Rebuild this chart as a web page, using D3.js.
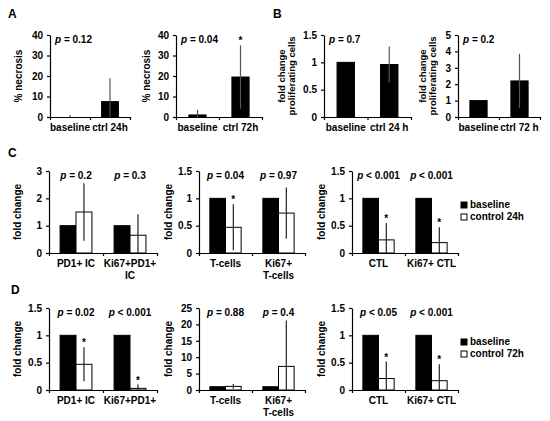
<!DOCTYPE html>
<html>
<head>
<meta charset="utf-8">
<script src="https://cdn.jsdelivr.net/npm/d3@7"></script>
<style>
  body { margin: 0; background: #fff; }
  svg { display: block; font-family: "Liberation Sans", Arial, sans-serif; font-weight: bold; }
</style>
</head>
<body>
<svg id="fig" width="550" height="421"></svg>
<script>
// ---- data ----
// A: % necrosis
const necrosisCats24 = ["baseline", "ctrl 24h"];
const necrosis24 = [0, 7.5];
const necrosis24Err = [1, 11.4];
const necrosisCats72 = ["baseline", "ctrl 72h"];
const necrosis72 = [1, 19.5];
const necrosis72Err = [2.5, 15.5];
const necrosisTicks = [0, 10, 20, 30, 40];
const necrosisP = ["0.12", "0.04"];

// B: fold change proliferating cells
const prolifCats24 = ["baseline", "ctrl 24 h"];
const prolif24 = [1, 0.96];
const prolif24Err = [0, 0.33];
const prolifTicks24 = [0, 0.5, 1, 1.5];
const prolifCats72 = ["baseline", "ctrl 72 h"];
const prolif72 = [1, 2.2];
const prolif72Err = [0, 1.65];
const prolifTicks72 = [0, 1, 2, 3, 4, 5];
const prolifP = ["0.7", "0.2"];

// C: 24h, baseline vs control
const icCats24 = ["PD1+ IC", "Ki67+PD1+\nIC"];
const icBase24 = [1, 1];
const icCtrl24 = [1.5, 0.65];
const icCtrl24Err = [1.05, 0.77];
const icP24 = ["= 0.2", "= 0.3"];
const icTicks24 = [0, 1, 2, 3];

const tcCats = ["T-cells", "Ki67+\nT-cells"];
const tcBase24 = [1, 1];
const tcCtrl24 = [0.47, 0.73];
const tcCtrl24Err = [0.42, 0.47];
const tcP24 = ["= 0.04", "= 0.97"];
const tcStar24 = [true, false];

const ctlCats = ["CTL", "Ki67+ CTL"];
const ctlBase24 = [1, 1];
const ctlCtrl24 = [0.24, 0.19];
const ctlCtrl24Err = [0.31, 0.28];
const ctlP24 = ["< 0.001", "< 0.001"];

const halfTicks = [0, 0.5, 1, 1.5];

// D: 72h, baseline vs control
const icCats72 = ["PD1+ IC", "Ki67+PD1+"];
const icBase72 = [1, 1];
const icCtrl72 = [0.47, 0.03];
const icCtrl72Err = [0.31, 0.07];
const icP72 = ["= 0.02", "< 0.001"];

const tcBase72 = [1, 1];
const tcCtrl72 = [1.1, 7.2];
const tcCtrl72Err = [0.7, 14];
const tcP72 = ["= 0.88", "= 0.4"];
const tcTicks72 = [0, 5, 10, 15, 20, 25];

const ctlBase72 = [1, 1];
const ctlCtrl72 = [0.21, 0.17];
const ctlCtrl72Err = [0.31, 0.3];
const ctlP72 = ["< 0.05", "< 0.001"];

const legendLabels24 = ["baseline", "control 24h"];
const legendLabels72 = ["baseline", "control 72h"];

// ---- drawing ----
const svg = d3.select("#fig");

function drawPanel(cfg) {
  const g = svg.append("g");
  const x = d3.scaleBand().domain(cfg.cats).range([cfg.x0, cfg.x1])
    .paddingInner(cfg.pad).paddingOuter(cfg.pad / 2);
  const y = d3.scaleLinear().domain([0, d3.max(cfg.ticks)]).range([cfg.y1, cfg.y0]);
  const sub = d3.scaleBand().domain(d3.range(cfg.series.length)).range([0, x.bandwidth()]);

  cfg.series.forEach((s, si) => {
    const sg = g.append("g");
    const cx = i => x(cfg.cats[i]) + sub(si) + sub.bandwidth() / 2;
    sg.selectAll("rect")
      .data(s.values)
      .join("rect")
      .attr("x", (d, i) => x(cfg.cats[i]) + sub(si))
      .attr("y", d => y(d))
      .attr("width", sub.bandwidth())
      .attr("height", d => y(0) - y(d))
      .attr("fill", s.fill)
      .attr("stroke", "#000")
      .attr("stroke-width", 1);
    if (s.err) {
      sg.selectAll("line")
        .data(s.values)
        .join("line")
        .attr("x1", (d, i) => cx(i))
        .attr("x2", (d, i) => cx(i))
        .attr("y1", (d, i) => y(Math.max(0, d - s.err[i])))
        .attr("y2", (d, i) => y(d + s.err[i]))
        .attr("stroke", s.fill === "#000" ? "#555" : "#222")
        .attr("stroke-width", 1.2);
    }
    if (s.stars) {
      const starred = s.values.map((v, i) => ({ v, i })).filter(d => s.stars[d.i]);
      sg.selectAll("text.star")
        .data(starred)
        .join("text")
        .attr("class", "star")
        .attr("x", d => cx(d.i))
        .attr("y", d => y(d.v + (s.err ? s.err[d.i] : 0)) - 1)
        .attr("text-anchor", "middle")
        .attr("font-size", 10)
        .text("*");
    }
  });

  // axes
  const yAxis = g.append("g")
    .attr("transform", `translate(${cfg.x0},0)`)
    .call(d3.axisLeft(y).tickValues(cfg.ticks).tickSize(3).tickSizeOuter(0)
      .tickPadding(4).tickFormat(d3.format("~g")));
  yAxis.attr("font-family", null).attr("font-size", 10);

  const xb = d3.scaleLinear().domain([0, cfg.cats.length]).range([cfg.x0, cfg.x1]);
  g.append("g")
    .attr("transform", `translate(0,${cfg.y1})`)
    .call(d3.axisBottom(xb).tickValues(d3.range(cfg.cats.length + 1))
      .tickSize(3).tickSizeOuter(0).tickFormat(""));
  g.selectAll(".domain, .tick line").attr("stroke", "#000").attr("stroke-width", 1.2);

  // category labels
  cfg.cats.forEach(c => {
    const t = g.append("text")
      .attr("x", x(c) + x.bandwidth() / 2)
      .attr("y", cfg.y1 + 14)
      .attr("text-anchor", "middle")
      .attr("font-size", 10);
    c.split("\n").forEach((line, li) => {
      t.append("tspan")
        .attr("x", x(c) + x.bandwidth() / 2)
        .attr("dy", li ? 12 : 0)
        .text(line);
    });
  });

  // p values
  cfg.pvals.forEach((pv, i) => {
    const single = cfg.pvals.length === 1;
    const t = g.append("text")
      .attr("x", single ? cfg.x0 + 5 : x(cfg.cats[i]) + x.bandwidth() / 2)
      .attr("y", cfg.y0 + 7.5)
      .attr("text-anchor", single ? "start" : "middle")
      .attr("font-size", 10);
    t.append("tspan").attr("font-style", "italic").text("p");
    t.append("tspan").text(" " + pv);
  });

  // y label
  cfg.ylabel.forEach((line, li) => {
    g.append("text")
      .attr("transform", `translate(${cfg.ylabelX[li]},${(cfg.y0 + cfg.y1) / 2}) rotate(-90)`)
      .attr("text-anchor", "middle")
      .attr("dy", "0.35em")
      .attr("font-size", cfg.ylabelSize || 10)
      .text(line);
  });
}

function drawLegend(labels, lx, ly) {
  const fills = ["#000", "#fff"];
  labels.forEach((lab, i) => {
    svg.append("rect")
      .attr("x", lx).attr("y", ly + i * 12 - 6)
      .attr("width", 6).attr("height", 6)
      .attr("fill", fills[i]).attr("stroke", "#000");
    svg.append("text")
      .attr("x", lx + 9).attr("y", ly + i * 12)
      .attr("font-size", 10)
      .text(lab);
  });
}

// panel letters
[["A", 8, 18], ["B", 273, 18], ["C", 8, 157], ["D", 11, 294]].forEach(([l, lx, ly]) => {
  svg.append("text").attr("x", lx).attr("y", ly).attr("font-size", 12).text(l);
});

const rowA = { y0: 35, y1: 117 };
const rowC = { y0: 171, y1: 253 };
const rowD = { y0: 308, y1: 390 };

// A
drawPanel({ ...rowA, x0: 50, x1: 130, pad: 0.58, cats: necrosisCats24, ticks: necrosisTicks,
  series: [{ values: necrosis24, err: necrosis24Err, fill: "#000" }],
  pvals: ["= " + necrosisP[0]], ylabel: ["% necrosis"], ylabelX: [18] });
drawPanel({ ...rowA, x0: 176, x1: 262, pad: 0.6, cats: necrosisCats72, ticks: necrosisTicks,
  series: [{ values: necrosis72, err: necrosis72Err, fill: "#000", stars: [false, true] }],
  pvals: ["= " + necrosisP[1]], ylabel: ["% necrosis"], ylabelX: [146] });

// B
drawPanel({ ...rowA, x0: 324, x1: 411, pad: 0.6, cats: prolifCats24, ticks: prolifTicks24,
  series: [{ values: prolif24, err: prolif24Err, fill: "#000" }],
  pvals: ["= " + prolifP[0]], ylabel: ["fold change", "proliferating cells"], ylabelX: [282, 292], ylabelSize: 9.5 });
drawPanel({ ...rowA, x0: 458, x1: 540, pad: 0.58, cats: prolifCats72, ticks: prolifTicks72,
  series: [{ values: prolif72, err: prolif72Err, fill: "#000" }],
  pvals: ["= " + prolifP[1]], ylabel: ["fold change", "proliferating cells"], ylabelX: [423, 433], ylabelSize: 9.5 });

// C
drawPanel({ ...rowC, x0: 49, x1: 157, pad: 0.41, cats: icCats24, ticks: icTicks24,
  series: [{ values: icBase24, fill: "#000" }, { values: icCtrl24, err: icCtrl24Err, fill: "#fff" }],
  pvals: icP24, ylabel: ["fold change"], ylabelX: [17] });
drawPanel({ ...rowC, x0: 199, x1: 305, pad: 0.41, cats: tcCats, ticks: halfTicks,
  series: [{ values: tcBase24, fill: "#000" }, { values: tcCtrl24, err: tcCtrl24Err, fill: "#fff", stars: tcStar24 }],
  pvals: tcP24, ylabel: ["fold change"], ylabelX: [168] });
drawPanel({ ...rowC, x0: 352, x1: 458, pad: 0.41, cats: ctlCats, ticks: halfTicks,
  series: [{ values: ctlBase24, fill: "#000" }, { values: ctlCtrl24, err: ctlCtrl24Err, fill: "#fff", stars: [true, true] }],
  pvals: ctlP24, ylabel: ["fold change"], ylabelX: [321] });
drawLegend(legendLabels24, 461, 208);

// D
drawPanel({ ...rowD, x0: 49, x1: 157, pad: 0.41, cats: icCats72, ticks: halfTicks,
  series: [{ values: icBase72, fill: "#000" }, { values: icCtrl72, err: icCtrl72Err, fill: "#fff", stars: [true, true] }],
  pvals: icP72, ylabel: ["fold change"], ylabelX: [17] });
drawPanel({ ...rowD, x0: 199, x1: 305, pad: 0.41, cats: tcCats, ticks: tcTicks72,
  series: [{ values: tcBase72, fill: "#000" }, { values: tcCtrl72, err: tcCtrl72Err, fill: "#fff" }],
  pvals: tcP72, ylabel: ["fold change"], ylabelX: [168] });
drawPanel({ ...rowD, x0: 352, x1: 458, pad: 0.41, cats: ctlCats, ticks: halfTicks,
  series: [{ values: ctlBase72, fill: "#000" }, { values: ctlCtrl72, err: ctlCtrl72Err, fill: "#fff", stars: [true, true] }],
  pvals: ctlP72, ylabel: ["fold change"], ylabelX: [321] });
drawLegend(legendLabels72, 461, 345);
</script>
</body>
</html>
